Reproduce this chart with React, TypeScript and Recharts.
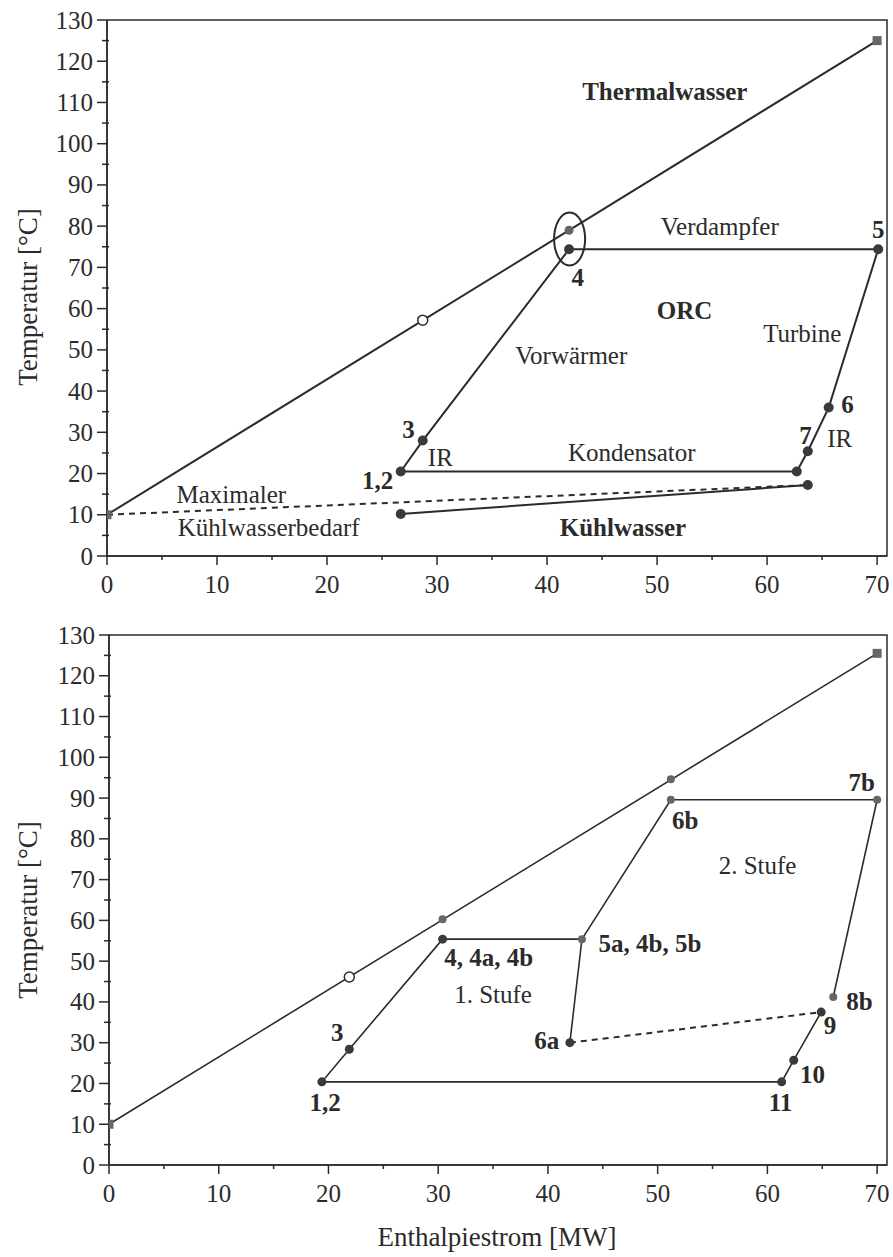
import React from "react";
import { ScatterChart, Scatter, XAxis, YAxis, ReferenceArea } from "recharts";

const FONT = '"Liberation Serif", "DejaVu Serif", serif';
const INK = "#2b2b2b";

const xTicks = [0, 5, 10, 15, 20, 25, 30, 35, 40, 45, 50, 55, 60, 65, 70];
const yTicks = [0, 5, 10, 15, 20, 25, 30, 35, 40, 45, 50, 55, 60, 65, 70, 75, 80, 85, 90, 95, 100, 105, 110, 115, 120, 125, 130];

// --- oberes Diagramm: einstufiger ORC ---
const thermalTop = [{ x: 0, y: 10 }, { x: 70, y: 125 }];
const thermalTopEnds = [{ x: 0, y: 10 }, { x: 70, y: 125 }];
const thermalTopOpen = [{ x: 28.7, y: 57.2 }];
const thermalTopGray = [{ x: 42, y: 79 }];
const pinchTop = [{ x: 42.05, y: 76.9 }];
const orcCycle = [
  { x: 26.7, y: 20.5 }, { x: 28.7, y: 28 }, { x: 42, y: 74.4 }, { x: 70.1, y: 74.4 },
  { x: 65.6, y: 36 }, { x: 63.7, y: 25.4 }, { x: 62.7, y: 20.5 }, { x: 26.7, y: 20.5 },
];
const orcPoints = [
  { x: 26.7, y: 20.5 }, { x: 28.7, y: 28 }, { x: 42, y: 74.4 }, { x: 70.1, y: 74.4 },
  { x: 65.6, y: 36 }, { x: 63.7, y: 25.4 }, { x: 62.7, y: 20.5 },
];
const coolingWater = [{ x: 26.7, y: 10.2 }, { x: 63.7, y: 17.2 }];
const maxCooling = [{ x: 0, y: 10 }, { x: 63.7, y: 17.2 }];

const topBold = [
  { x: 50.7, y: 112.7, text: "Thermalwasser" },
  { x: 70.1, y: 79.2, text: "5" },
  { x: 42.8, y: 67.6, text: "4" },
  { x: 52.5, y: 59.6, text: "ORC" },
  { x: 27.4, y: 30.8, text: "3" },
  { x: 63.5, y: 29.3, text: "7" },
  { x: 67.3, y: 36.8, text: "6" },
  { x: 24.6, y: 18.4, text: "1,2" },
  { x: 46.9, y: 6.8, text: "Kühlwasser" },
];
const topPlain = [
  { x: 55.7, y: 80.0, text: "Verdampfer" },
  { x: 63.2, y: 54.0, text: "Turbine" },
  { x: 42.2, y: 48.7, text: "Vorwärmer" },
  { x: 30.3, y: 24.0, text: "IR" },
  { x: 47.7, y: 25.2, text: "Kondensator" },
  { x: 66.6, y: 28.6, text: "IR" },
  { x: 11.3, y: 14.8, text: "Maximaler" },
  { x: 14.7, y: 7.0, text: "Kühlwasserbedarf" },
];

// --- unteres Diagramm: zweistufiger ORC ---
const thermalBottom = [{ x: 0, y: 10 }, { x: 70, y: 125.5 }];
const thermalBottomEnds = [{ x: 0, y: 10 }, { x: 70, y: 125.5 }];
const thermalBottomOpen = [{ x: 21.9, y: 46.1 }];
const thermalBottomGray = [{ x: 30.4, y: 60.3 }, { x: 51.2, y: 94.6 }];
const stage1 = [
  { x: 64.9, y: 37.5 }, { x: 62.4, y: 25.7 }, { x: 61.3, y: 20.4 }, { x: 19.4, y: 20.4 },
  { x: 21.9, y: 28.4 }, { x: 30.4, y: 55.4 }, { x: 43.1, y: 55.4 }, { x: 42, y: 30 },
];
const stage2 = [{ x: 43.1, y: 55.4 }, { x: 51.2, y: 89.6 }, { x: 70, y: 89.6 }, { x: 66, y: 41.2 }];
const mixLine = [{ x: 42, y: 30 }, { x: 64.9, y: 37.5 }];
const bottomDark = [
  { x: 19.4, y: 20.4 }, { x: 21.9, y: 28.4 }, { x: 30.4, y: 55.4 }, { x: 42, y: 30 },
  { x: 64.9, y: 37.5 }, { x: 62.4, y: 25.7 }, { x: 61.3, y: 20.4 },
];
const bottomGray = [{ x: 43.1, y: 55.4 }, { x: 51.2, y: 89.6 }, { x: 70, y: 89.6 }, { x: 66, y: 41.2 }];

const bottomBold = [
  { x: 52.5, y: 84.6, text: "6b" },
  { x: 68.6, y: 93.9, text: "7b" },
  { x: 49.3, y: 54.4, text: "5a, 4b, 5b" },
  { x: 34.6, y: 51.0, text: "4, 4a, 4b" },
  { x: 39.9, y: 30.6, text: "6a" },
  { x: 68.4, y: 40.0, text: "8b" },
  { x: 65.7, y: 34.3, text: "9" },
  { x: 64.1, y: 22.1, text: "10" },
  { x: 61.2, y: 15.4, text: "11" },
  { x: 20.8, y: 32.6, text: "3" },
  { x: 19.7, y: 15.4, text: "1,2" },
];
const bottomPlain = [
  { x: 59.1, y: 73.5, text: "2. Stufe" },
  { x: 35.0, y: 41.7, text: "1. Stufe" },
];

const XTick = (props: any) => {
  const { x, y, payload } = props;
  const major = payload.value % 10 === 0;
  return (
    <g>
      <line x1={x} x2={x} y1={y} y2={y + (major ? 9 : 4)} stroke={INK} strokeWidth={1.5} />
      {major && (
        <text x={x} y={y + 28} textAnchor="middle" dominantBaseline="central" fontSize={25} fontFamily={FONT} fill={INK}>
          {payload.value}
        </text>
      )}
    </g>
  );
};

const YTick = (props: any) => {
  const { x, y, payload } = props;
  const major = payload.value % 10 === 0;
  return (
    <g>
      <line x1={major ? x - 10 : x - 5} x2={x + (major ? 0 : 2)} y1={y} y2={y} stroke={INK} strokeWidth={1.5} />
      {major && (
        <text x={x - 14} y={y} textAnchor="end" dominantBaseline="central" fontSize={25} fontFamily={FONT} fill={INK}>
          {payload.value}
        </text>
      )}
    </g>
  );
};

const noDot = () => <g />;
const dot = (fill: string, r: number) => (p: any) => <circle cx={p.cx} cy={p.cy} r={r} fill={fill} />;
const square = (p: any) => <rect x={p.cx - 4.5} y={p.cy - 4.5} width={9} height={9} fill="#666" />;
const openDot = (p: any) => <circle cx={p.cx} cy={p.cy} r={5} fill="#fff" stroke={INK} strokeWidth={1.5} />;
const ellipse = (p: any) => <ellipse cx={p.cx} cy={p.cy} rx={15.5} ry={26.5} fill="none" stroke={INK} strokeWidth={2} />;
const textShape = (bold: boolean) => (p: any) => (
  <text
    x={p.cx}
    y={p.cy}
    textAnchor="middle"
    dominantBaseline="central"
    fontSize={25}
    fontWeight={bold ? "bold" : "normal"}
    fontFamily={FONT}
    fill={INK}
  >
    {p.payload.text}
  </text>
);

export default function App() {
  const axisLine = { stroke: INK, strokeWidth: 1.5 };
  return (
    <div style={{ position: "absolute", left: 0, top: 0, width: 893, height: 1257, background: "#fff" }}>
      <div style={{ position: "absolute", left: 0, top: 0 }}>
        <ScatterChart width={893} height={610} margin={{ top: 20, right: 6, left: 0, bottom: 0 }}>
          <XAxis type="number" dataKey="x" domain={[0, 70.9]} ticks={xTicks} interval={0} tick={XTick} tickSize={0} tickMargin={0} tickLine={false} axisLine={axisLine} height={54} allowDataOverflow />
          <YAxis type="number" dataKey="y" domain={[0, 130]} ticks={yTicks} interval={0} tick={YTick} tickSize={0} tickMargin={0} tickLine={false} axisLine={axisLine} width={107} allowDataOverflow />
          <ReferenceArea x1={0} x2={70.9} y1={0} y2={130} fillOpacity={0} stroke={INK} strokeWidth={1.5} />
          <Scatter data={maxCooling} line={{ stroke: INK, strokeWidth: 2, strokeDasharray: "6 5" }} lineType="joint" shape={noDot} isAnimationActive={false} />
          <Scatter data={thermalTop} line={{ stroke: INK, strokeWidth: 2 }} lineType="joint" shape={noDot} isAnimationActive={false} />
          <Scatter data={orcCycle} line={{ stroke: INK, strokeWidth: 2 }} lineType="joint" shape={noDot} isAnimationActive={false} />
          <Scatter data={coolingWater} line={{ stroke: INK, strokeWidth: 2 }} lineType="joint" shape={dot("#3a3a3a", 5)} isAnimationActive={false} />
          <Scatter data={orcPoints} shape={dot("#3a3a3a", 5)} isAnimationActive={false} />
          <Scatter data={thermalTopEnds} shape={square} isAnimationActive={false} />
          <Scatter data={thermalTopGray} shape={dot("#666", 4.5)} isAnimationActive={false} />
          <Scatter data={thermalTopOpen} shape={openDot} isAnimationActive={false} />
          <Scatter data={pinchTop} shape={ellipse} isAnimationActive={false} />
          <Scatter data={topBold} shape={textShape(true)} isAnimationActive={false} />
          <Scatter data={topPlain} shape={textShape(false)} isAnimationActive={false} />
        </ScatterChart>
      </div>
      <div style={{ position: "absolute", left: 0, top: 610 }}>
        <ScatterChart width={893} height={647} margin={{ top: 25, right: 6, left: 0, bottom: 0 }}>
          <XAxis type="number" dataKey="x" domain={[0, 70.9]} ticks={xTicks} interval={0} tick={XTick} tickSize={0} tickMargin={0} tickLine={false} axisLine={axisLine} height={92} allowDataOverflow />
          <YAxis type="number" dataKey="y" domain={[0, 130]} ticks={yTicks} interval={0} tick={YTick} tickSize={0} tickMargin={0} tickLine={false} axisLine={axisLine} width={109} allowDataOverflow />
          <ReferenceArea x1={0} x2={70.9} y1={0} y2={130} fillOpacity={0} stroke={INK} strokeWidth={1.5} />
          <Scatter data={mixLine} line={{ stroke: INK, strokeWidth: 2, strokeDasharray: "6 5" }} lineType="joint" shape={noDot} isAnimationActive={false} />
          <Scatter data={thermalBottom} line={{ stroke: INK, strokeWidth: 1.6 }} lineType="joint" shape={noDot} isAnimationActive={false} />
          <Scatter data={stage1} line={{ stroke: INK, strokeWidth: 1.6 }} lineType="joint" shape={noDot} isAnimationActive={false} />
          <Scatter data={stage2} line={{ stroke: INK, strokeWidth: 1.6 }} lineType="joint" shape={noDot} isAnimationActive={false} />
          <Scatter data={bottomDark} shape={dot("#3a3a3a", 4.5)} isAnimationActive={false} />
          <Scatter data={bottomGray} shape={dot("#666", 4)} isAnimationActive={false} />
          <Scatter data={thermalBottomGray} shape={dot("#666", 4)} isAnimationActive={false} />
          <Scatter data={thermalBottomEnds} shape={square} isAnimationActive={false} />
          <Scatter data={thermalBottomOpen} shape={openDot} isAnimationActive={false} />
          <Scatter data={bottomBold} shape={textShape(true)} isAnimationActive={false} />
          <Scatter data={bottomPlain} shape={textShape(false)} isAnimationActive={false} />
        </ScatterChart>
      </div>
      <svg width={893} height={1257} style={{ position: "absolute", left: 0, top: 0, pointerEvents: "none" }}>
        <text transform="translate(28, 297) rotate(-90)" textAnchor="middle" dominantBaseline="central" fontSize={27} fontFamily={FONT} fill={INK}>
          Temperatur [°C]
        </text>
        <text transform="translate(28, 910) rotate(-90)" textAnchor="middle" dominantBaseline="central" fontSize={27} fontFamily={FONT} fill={INK}>
          Temperatur [°C]
        </text>
        <text x={497} y={1237} textAnchor="middle" dominantBaseline="central" fontSize={27} fontFamily={FONT} fill={INK}>
          Enthalpiestrom [MW]
        </text>
      </svg>
    </div>
  );
}
